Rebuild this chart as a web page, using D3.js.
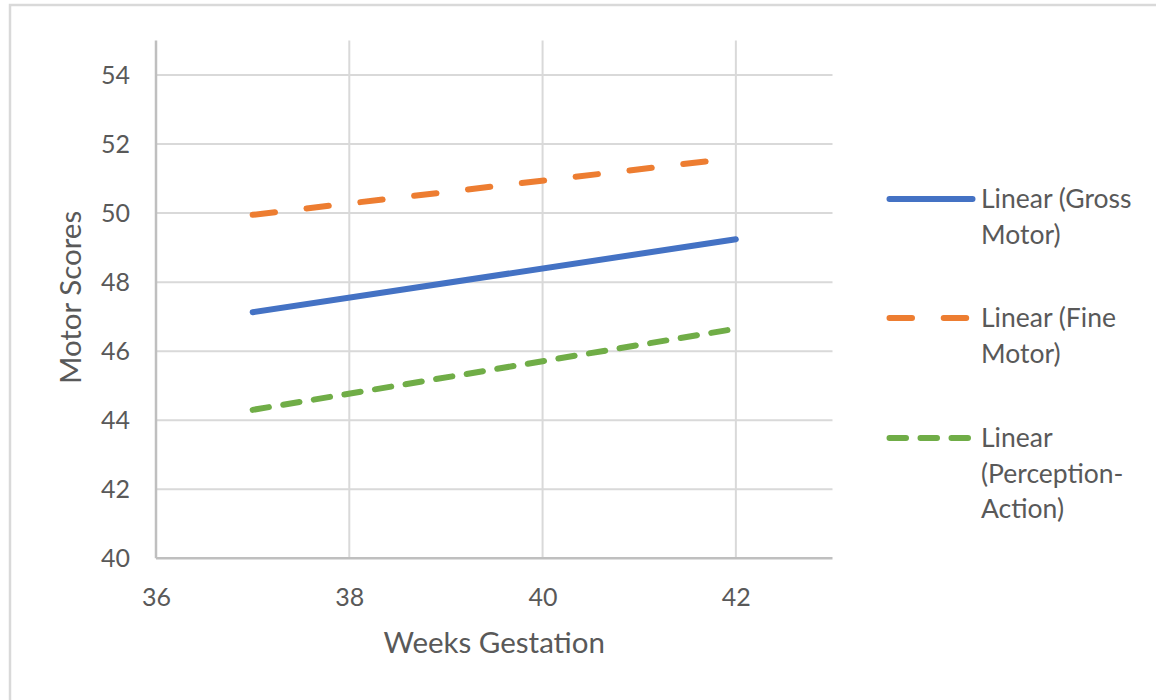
<!DOCTYPE html>
<html>
<head>
<meta charset="utf-8">
<script src="https://cdn.jsdelivr.net/npm/d3@7"></script>
<style>
  html, body { margin: 0; padding: 0; background: #ffffff; }
  svg { display: block; }
  text { font-family: Lato, "Open Sans", sans-serif; fill: #595959; }
</style>
</head>
<body>
<svg id="chart" width="1156" height="700"></svg>
<script>
// ---- data ----
const weeks = [37, 42];
const grossMotor = [47.13, 49.24];
const fineMotor = [49.95, 51.6];
const perceptionAction = [44.3, 46.65];
const seriesNames = ["Linear (Gross Motor)", "Linear (Fine Motor)", "Linear (Perception-Action)"];
const legendLabels = [["Linear (Gross", "Motor)"], ["Linear (Fine", "Motor)"], ["Linear", "(Perception-", "Action)"]];
const xTicks = [36, 38, 40, 42];
const yTicks = [40, 42, 44, 46, 48, 50, 52, 54];
const xDomain = [36, 43];
const yDomain = [40, 55];
const xTitle = "Weeks Gestation";
const yTitle = "Motor Scores";

// ---- styles ----
const colors = ["#4472c4", "#ed7d31", "#70ad47"];
const dashes = [null, "22.5 31.7", "16.5 14.5"];

const svg = d3.select("#chart");

// outer chart border
svg.append("rect")
  .attr("x", 10).attr("y", 5).attr("width", 1200).attr("height", 760)
  .attr("fill", "none").attr("stroke", "#d9d9d9").attr("stroke-width", 2.5);

const plot = { left: 156, right: 832.5, top: 40.5, bottom: 558.3 };
const x = d3.scaleLinear().domain(xDomain).range([plot.left, plot.right]);
const y = d3.scaleLinear().domain(yDomain).range([plot.bottom, plot.top]);

// horizontal gridlines
svg.append("g").selectAll("line").data(yTicks.filter(d => d !== 40)).join("line")
  .attr("x1", plot.left).attr("x2", plot.right)
  .attr("y1", d => y(d)).attr("y2", d => y(d))
  .attr("stroke", "#d9d9d9").attr("stroke-width", 2);

// vertical gridlines
svg.append("g").selectAll("line").data(xTicks.filter(d => d !== 36)).join("line")
  .attr("x1", d => x(d)).attr("x2", d => x(d))
  .attr("y1", plot.top).attr("y2", plot.bottom)
  .attr("stroke", "#d9d9d9").attr("stroke-width", 2);

// axes lines
svg.append("line")
  .attr("x1", plot.left).attr("x2", plot.left)
  .attr("y1", plot.top).attr("y2", plot.bottom)
  .attr("stroke", "#bfbfbf").attr("stroke-width", 2.5);
svg.append("line")
  .attr("x1", plot.left).attr("x2", plot.right)
  .attr("y1", plot.bottom).attr("y2", plot.bottom)
  .attr("stroke", "#bfbfbf").attr("stroke-width", 2.5);

// y tick labels via axis
const yAxis = d3.axisLeft(y).tickValues(yTicks).tickSize(0).tickPadding(26).tickFormat(d3.format("d"));
const gy = svg.append("g").attr("transform", `translate(${plot.left},0)`).call(yAxis);
gy.select(".domain").remove();
gy.selectAll("text").attr("font-size", 25).attr("fill", "#595959")
  .style("font-family", "Lato, 'Open Sans', sans-serif");

// x tick labels via axis
const xAxis = d3.axisBottom(x).tickValues(xTicks).tickSize(0).tickPadding(30).tickFormat(d3.format("d"));
const gx = svg.append("g").attr("transform", `translate(0,${plot.bottom})`).call(xAxis);
gx.select(".domain").remove();
gx.selectAll("text").attr("font-size", 25).attr("fill", "#595959")
  .style("font-family", "Lato, 'Open Sans', sans-serif");

// axis titles
svg.append("text")
  .attr("x", (plot.left + plot.right) / 2).attr("y", 653)
  .attr("text-anchor", "middle").attr("font-size", 29.5)
  .text(xTitle);
svg.append("text")
  .attr("transform", `translate(81,${(plot.top + plot.bottom) / 2 - 2}) rotate(-90)`)
  .attr("text-anchor", "middle").attr("font-size", 29.5)
  .text(yTitle);

// series lines
const allSeries = [grossMotor, fineMotor, perceptionAction];
const line = d3.line().x(d => x(d[0])).y(d => y(d[1]));
allSeries.forEach((vals, i) => {
  const pts = weeks.map((w, j) => [w, vals[j]]);
  svg.append("path")
    .datum(pts)
    .attr("d", line)
    .attr("fill", "none")
    .attr("stroke", colors[i])
    .attr("stroke-width", 6)
    .attr("stroke-linecap", "round")
    .attr("stroke-dasharray", dashes[i])
    .attr("aria-label", seriesNames[i]);
});

// legend
const legendY = [199, 318, 438];
const lineGap = 35.5;
allSeries.forEach((vals, i) => {
  const g = svg.append("g");
  g.append("line")
    .attr("x1", 889.5).attr("x2", 972.5)
    .attr("y1", legendY[i]).attr("y2", legendY[i])
    .attr("stroke", colors[i]).attr("stroke-width", 6)
    .attr("stroke-linecap", "round")
    .attr("stroke-dasharray", dashes[i]);
  const t = g.append("text").attr("x", 981).attr("font-size", 26.5);
  legendLabels[i].forEach((s, k) => {
    t.append("tspan").attr("x", 981).attr("y", legendY[i] + 9 + k * lineGap).text(s);
  });
});
</script>
</body>
</html>
